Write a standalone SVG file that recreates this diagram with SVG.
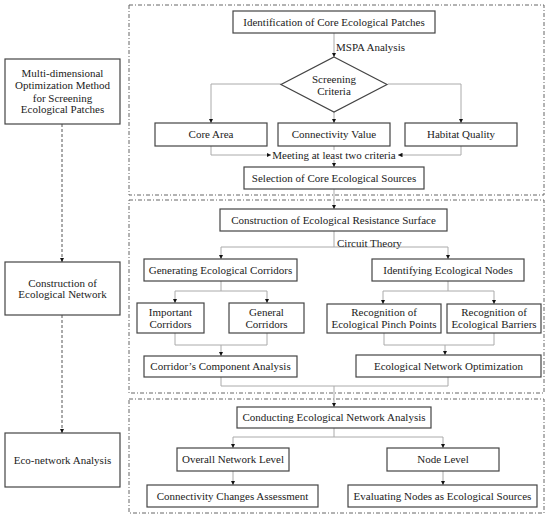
<svg xmlns="http://www.w3.org/2000/svg" width="550" height="517" viewBox="0 0 550 517">
<defs>
<marker id="ah" viewBox="0 0 6 6" refX="6" refY="3" markerWidth="4.5" markerHeight="4.5" orient="auto" markerUnits="userSpaceOnUse">
<path d="M0,0 L6,3 L0,6 z" fill="#111"/>
</marker>
<style>
.box{fill:#fff;stroke:#444;stroke-width:1.2}
.frame{fill:none;stroke:#666;stroke-width:1;stroke-dasharray:4 2 1 2}
.c{fill:none;stroke:#aaa;stroke-width:1}
.d{fill:none;stroke:#555;stroke-width:1;stroke-dasharray:3 2}
text{font-family:'Liberation Serif','DejaVu Serif',serif;font-size:11px;fill:#222;text-anchor:middle}
.l{text-anchor:start}
</style>
</defs>
<rect width="550" height="517" fill="#fff"/>
<g id="frames">
<rect class="frame" x="129" y="5" width="415" height="190"/>
<rect class="frame" x="129" y="200" width="415" height="193"/>
<rect class="frame" x="129" y="399" width="415" height="114"/>
</g>
<g id="connectors">
<path class="d" d="M62,124 V262" marker-end="url(#ah)"/>
<path class="d" d="M62,315 V433" marker-end="url(#ah)"/>
<path class="c" d="M334,33 V57" marker-end="url(#ah)"/>
<path class="c" d="M281,84 H211 V123" marker-end="url(#ah)"/>
<path class="c" d="M388,84 H461 V123" marker-end="url(#ah)"/>
<path class="c" d="M334,112 V123" marker-end="url(#ah)"/>
<path class="c" d="M211,146 V155 H271" marker-end="url(#ah)"/>
<path class="c" d="M461,146 V155 H398" marker-end="url(#ah)"/>
<path class="c" d="M334,146 V150"/>
<path class="c" d="M334,160 V167" marker-end="url(#ah)"/>
<path class="c" d="M334,189 V209" marker-end="url(#ah)"/>
<path class="c" d="M334,231 V247 M221,247 H448"/>
<path class="c" d="M221,247 V259" marker-end="url(#ah)"/>
<path class="c" d="M448,247 V259" marker-end="url(#ah)"/>
<path class="c" d="M221,281 V291 M175,291 H267"/>
<path class="c" d="M175,291 V303" marker-end="url(#ah)"/>
<path class="c" d="M267,291 V303" marker-end="url(#ah)"/>
<path class="c" d="M175,333 V345 H267 V333"/>
<path class="c" d="M221,345 V356" marker-end="url(#ah)"/>
<path class="c" d="M448,281 V291 M383,291 H494"/>
<path class="c" d="M383,291 V304" marker-end="url(#ah)"/>
<path class="c" d="M494,291 V304" marker-end="url(#ah)"/>
<path class="c" d="M384,333 V345 H494 V333"/>
<path class="c" d="M445,345 V355" marker-end="url(#ah)"/>
<path class="c" d="M221,377 V386 H448 V377"/>
<path class="c" d="M334,386 V407" marker-end="url(#ah)"/>
<path class="c" d="M334,428 V437 M233,437 H443"/>
<path class="c" d="M233,437 V448" marker-end="url(#ah)"/>
<path class="c" d="M443,437 V448" marker-end="url(#ah)"/>
<path class="c" d="M233,471 V485" marker-end="url(#ah)"/>
<path class="c" d="M443,471 V485" marker-end="url(#ah)"/>
</g>
<g font-family="'Liberation Serif','DejaVu Serif',serif">
<g id="labels">
<text class="l" x="336" y="51">MSPA Analysis</text>
<text x="334" y="159">Meeting at least two criteria</text>
<text class="l" x="337" y="247">Circuit Theory</text>
</g>
<g id="n-multi"><rect class="box" x="5" y="59" width="115" height="65"/>
<text x="62.5" y="77">Multi-dimensional</text><text x="62.5" y="89">Optimization Method</text><text x="62.5" y="101.5">for Screening</text><text x="62.5" y="113">Ecological Patches</text></g>
<g id="n-construction"><rect class="box" x="5" y="262" width="115" height="53"/>
<text x="62.5" y="286.5">Construction of</text><text x="62.5" y="298">Ecological Network</text></g>
<g id="n-econet"><rect class="box" x="5" y="433" width="115" height="54"/>
<text x="62.5" y="464">Eco-network Analysis</text></g>
<g id="n-ident"><rect class="box" x="233" y="11" width="202" height="22"/><text x="334" y="25.5">Identification of  Core Ecological Patches</text></g>
<g id="n-screen"><path class="box" d="M334,57 L387,84.5 L334,112 L281,84.5 z"/><text x="334" y="83">Screening</text><text x="334" y="94.5">Criteria</text></g>
<g id="n-core"><rect class="box" x="155" y="123" width="112" height="23"/><text x="211" y="138">Core Area</text></g>
<g id="n-conn"><rect class="box" x="278" y="123" width="112" height="23"/><text x="334" y="138">Connectivity Value</text></g>
<g id="n-habitat"><rect class="box" x="405" y="123" width="112" height="23"/><text x="461" y="138">Habitat Quality</text></g>
<g id="n-selection"><rect class="box" x="244" y="167" width="180" height="22"/><text x="334" y="181.5">Selection of Core Ecological Sources</text></g>
<g id="n-resist"><rect class="box" x="220" y="209" width="227" height="22"/><text x="333.5" y="223.5">Construction of Ecological Resistance Surface</text></g>
<g id="n-gencorr"><rect class="box" x="144" y="259" width="153" height="22"/><text x="220.5" y="273.5">Generating Ecological Corridors</text></g>
<g id="n-idnodes"><rect class="box" x="372" y="259" width="152" height="22"/><text x="448" y="273.5">Identifying Ecological Nodes</text></g>
<g id="n-important"><rect class="box" x="137" y="303" width="67" height="30"/><text x="170.5" y="316">Important</text><text x="170.5" y="328">Corridors</text></g>
<g id="n-general"><rect class="box" x="229" y="303" width="75" height="30"/><text x="266.5" y="316">General</text><text x="266.5" y="328">Corridors</text></g>
<g id="n-pinch"><rect class="box" x="327" y="304" width="114" height="29"/><text x="384" y="316">Recognition of</text><text x="384" y="328">Ecological Pinch Points</text></g>
<g id="n-barriers"><rect class="box" x="447" y="304" width="94" height="29"/><text x="494" y="316">Recognition of</text><text x="494" y="328">Ecological Barriers</text></g>
<g id="n-compo"><rect class="box" x="144" y="356" width="153" height="21"/><text x="220.5" y="370">Corridor’s Component Analysis</text></g>
<g id="n-opt"><rect class="box" x="356" y="355" width="185" height="22"/><text x="448.5" y="369.5">Ecological Network Optimization</text></g>
<g id="n-conduct"><rect class="box" x="237" y="407" width="194" height="21"/><text x="334" y="421">Conducting Ecological Network Analysis</text></g>
<g id="n-overall"><rect class="box" x="177" y="448" width="112" height="23"/><text x="233" y="463">Overall Network Level</text></g>
<g id="n-nodelevel"><rect class="box" x="387" y="448" width="112" height="23"/><text x="443" y="463">Node Level</text></g>
<g id="n-connchg"><rect class="box" x="147" y="485" width="171" height="22"/><text x="232.5" y="499.5">Connectivity Changes Assessment</text></g>
<g id="n-evalnodes"><rect class="box" x="348" y="485" width="189" height="22"/><text x="442.5" y="499.5">Evaluating Nodes as Ecological Sources</text></g>
</g>
</svg>
